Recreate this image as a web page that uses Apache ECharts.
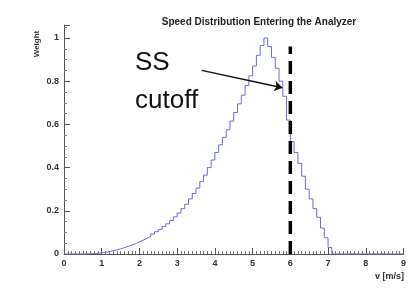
<!DOCTYPE html>
<html>
<head>
<meta charset="utf-8">
<script src="https://cdn.jsdelivr.net/npm/echarts@6/dist/echarts.min.js"></script>
<style>
  html, body { margin: 0; padding: 0; background: #fff; }
  #chart { width: 409px; height: 301px; }
</style>
</head>
<body>
<div id="chart"></div>
<script>
// histogram bins: 0.1 m/s wide, from 0 to 9
let binStart = 0
let binWidth = 0.1
let weights = [
  0, 0, 0, 0, 0, 0, 0.001, 0.002, 0.003, 0.005,
  0.008, 0.011, 0.015, 0.019, 0.024, 0.029, 0.035, 0.041, 0.048, 0.056,
  0.064, 0.073, 0.082, 0.092, 0.103, 0.114, 0.127, 0.14, 0.155, 0.172,
  0.19, 0.21, 0.23, 0.255, 0.28, 0.305, 0.335, 0.365, 0.4, 0.435,
  0.47, 0.505, 0.54, 0.575, 0.615, 0.655, 0.695, 0.735, 0.78, 0.825,
  0.87, 0.92, 0.965, 1.0, 0.96, 0.91, 0.86, 0.8, 0.73, 0.62,
  0.52, 0.47, 0.42, 0.36, 0.3, 0.255, 0.21, 0.17, 0.12, 0.075,
  0.03, 0, 0, 0, 0, 0, 0, 0, 0, 0,
  0, 0, 0, 0, 0, 0, 0, 0, 0, 0
]
// cutoff line and annotation arrow
let cutoff = [[6, 0], [6, 0.96]]
let arrowFrom = [3.65, 0.85]
let arrowTo = [5.79, 0.77]
let xTicks = [0, 1, 2, 3, 4, 5, 6, 7, 8, 9]
let yTicks = [0, 0.2, 0.4, 0.6, 0.8, 1]

// bin edges -> step points
let histPoints = weights.map((w, i) => [+(binStart + i * binWidth).toFixed(2), w])
histPoints.push([binStart + weights.length * binWidth, 0])

let labelFont = { fontFamily: 'Liberation Sans', fontWeight: 'bold', fontSize: 9, color: '#333' }

let chart = echarts.init(document.getElementById('chart'))
chart.setOption({
  animation: false,
  title: {
    text: 'Speed Distribution Entering the Analyzer',
    left: 254, top: 12, textAlign: 'center',
    textStyle: { fontFamily: 'Liberation Sans', fontWeight: 'bold', fontSize: 10, color: '#222' }
  },
  grid: { left: 64, right: 5, top: 25, bottom: 47 },
  xAxis: {
    type: 'value', min: xTicks[0], max: xTicks[xTicks.length - 1], interval: 1,
    axisLine: { lineStyle: { color: '#555' } },
    axisTick: { inside: true, length: 6, lineStyle: { color: '#555' } },
    minorTick: { show: true, splitNumber: 10, length: 3, lineStyle: { color: '#777' } },
    splitLine: { show: false },
    axisLabel: Object.assign({ margin: 5 }, labelFont)
  },
  yAxis: {
    type: 'value', min: 0, max: 1.06, interval: 0.2,
    axisLine: { show: true, lineStyle: { color: '#555' } },
    axisTick: { show: true, inside: true, length: 6, lineStyle: { color: '#555' } },
    minorTick: { show: true, splitNumber: 4, length: 3, lineStyle: { color: '#777' } },
    splitLine: { show: false },
    axisLabel: Object.assign({
      margin: 5, showMaxLabel: false,
      formatter: v => yTicks.some(t => Math.abs(t - v) < 1e-6) ? String(+v.toFixed(1)) : ''
    }, labelFont)
  },
  graphic: [
    { type: 'text', left: 135, top: 50, style: { text: 'SS', fontFamily: 'Liberation Sans', fontSize: 26, fill: '#111' } },
    { type: 'text', left: 135, top: 88, style: { text: 'cutoff', fontFamily: 'Liberation Sans', fontSize: 26, fill: '#111' } },
    { type: 'text', x: 37, y: 44, rotation: Math.PI / 2, style: { text: 'Weight', fontFamily: 'Liberation Sans', fontWeight: 'bold', fontSize: 8, fill: '#333', align: 'center', verticalAlign: 'middle' } },
    { type: 'text', right: 5, top: 272, style: { text: 'v [m/s]', fontFamily: 'Liberation Sans', fontWeight: 'bold', fontSize: 9, fill: '#333' } }
  ],
  series: [
    {
      type: 'line', step: 'end', data: histPoints, showSymbol: false,
      lineStyle: { color: '#6b6be0', width: 1 }
    },
    {
      type: 'line', data: cutoff, showSymbol: false,
      lineStyle: { color: '#000', width: 3.5, type: [13, 7] },
      markLine: {
        silent: true, symbol: ['none', 'arrow'], symbolSize: 8,
        label: { show: false },
        lineStyle: { color: '#111', width: 1.5, type: 'solid' },
        data: [[{ coord: arrowFrom }, { coord: arrowTo }]]
      }
    }
  ]
})
</script>
</body>
</html>
